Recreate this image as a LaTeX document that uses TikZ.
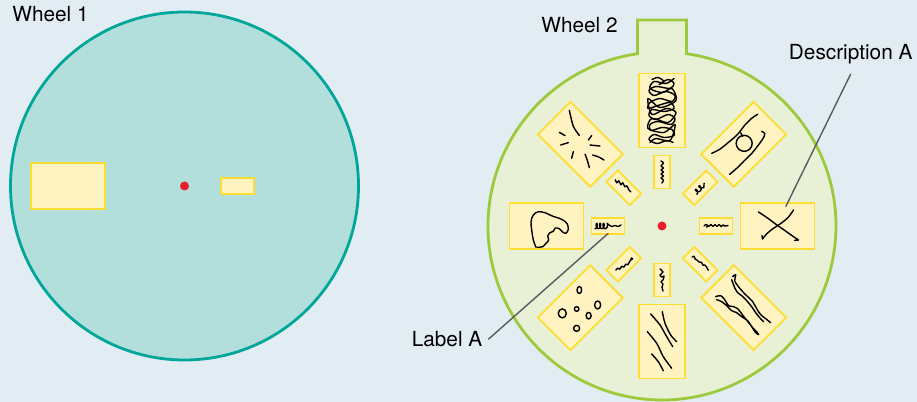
\documentclass[tikz,border=0pt]{standalone}
\usepackage{fontspec}
\setmainfont{TeX Gyre Heros}
\usetikzlibrary{calc}
\definecolor{bgblue}{HTML}{E2EDF3}
\definecolor{tealfill}{HTML}{B2DFDB}
\definecolor{tealline}{HTML}{00A699}
\definecolor{greenfill}{HTML}{E8F1D5}
\definecolor{greenline}{HTML}{9DC93C}
\definecolor{tilefill}{HTML}{FFF3C2}
\definecolor{tileline}{HTML}{FFDD33}
\definecolor{hubred}{HTML}{E8202A}
\definecolor{leadgray}{HTML}{5A5A5C}

\begin{document}
\begin{tikzpicture}[x=0.5pt, y=0.5pt,
  wheelone/.style={draw=tealline, fill=tealfill, line width=1.4pt},
  wheeltwo/.style={draw=greenline, fill=greenfill, line width=1.4pt},
  tile/.style={draw=tileline, fill=tilefill, line width=0.9pt, minimum width=37pt, minimum height=23pt, inner sep=0pt},
  chip/.style={tile, minimum width=16.5pt, minimum height=8pt},
  pen/.style={black, line width=0.7pt, line cap=round, line join=round},
  leader/.style={draw=leadgray, line width=0.7pt},
  lbl/.style={font=\fontsize{10.4}{12}\selectfont, inner sep=0pt}
]
  \useasboundingbox (0,0) rectangle (917,402);
  \fill[bgblue] (0,0) rectangle (917,402);
  \coordinate (c1) at (184.5,216);
  \coordinate (c2) at (662,176);

  % wheel 1
  \draw[wheelone] (c1) circle[radius=174];
  \node[lbl, anchor=base west] (wone) at (12,380) {Wheel 1};
  \node[tile] (wbig) at ($(c1)+(180:116.5)$) {};
  \node[chip] (wsmall) at ($(c1)+(0:53)$) {};
  \fill[hubred] (c1) circle[radius=4.5];

  % wheel 2 with its tab
  \draw[wheeltwo] (637.5,348.27) -- (637.5,382) -- (686.5,382) -- (686.5,348.27)
    arc[start angle=81.9, end angle=-261.9, radius=174] -- cycle;
  \node[lbl, anchor=base west] (wtwo) at (541,369) {Wheel 2};
  \foreach \a in {0,45,...,315} {
    \node[tile, rotate=\a] (o\a) at ($(c2)+(\a:115.5)$) {};
    \node[chip, rotate=\a] (i\a) at ($(c2)+(\a:54)$) {};
  }
  \fill[hubred] (c2) circle[radius=4.5];

  % scribbles, outer tiles
  \begin{scope}[shift={(o0.center)}, yscale=-1]
    \draw[pen] plot[smooth] coordinates {(-19,-14) (-10,-8) (-2,-2) (8,5) (15,10) (21,14)} -- (17,14.5);
    \draw[pen] plot[smooth] coordinates {(16,-16) (11,-9) (4,-3) (-5,3) (-11,8) (-15,13)} -- (-15.5,9.5);
  \end{scope}
  \begin{scope}[shift={(o45.center)}, yscale=-1]
    \draw[pen] plot[smooth] coordinates {(-32,9) (-24,5) (-14,-3) (-6,-10) (1,-19) (8,-26) (14,-30)};
    \draw[pen] plot[smooth] coordinates {(-14,30) (-7,24) (1,16) (9,8) (16,-1) (20,-7) (21,-11) (18,-13)};
    \draw[pen] (0.5,-1) circle[radius=8];
    \draw[pen] (-3,-11.5) -- (-1,-8);
  \end{scope}
  \begin{scope}[shift={(o90.center)}, yscale=-1]
    \draw[pen] plot[smooth] coordinates {(-10,-31) (-4,-33) (2,-29) (-3,-26) (6,-31) (12,-27) (8,-22)
      (-6,-24) (-13,-20) (-8,-15) (4,-19) (13,-15) (10,-9) (-2,-12) (-12,-8) (-14,-2) (-4,-5)
      (8,-8) (12,-2) (2,1) (-10,-1) (-13,5) (-6,9) (6,4) (13,8) (9,14) (-4,11) (-12,14)
      (-11,20) (0,17) (10,19) (12,25) (2,27) (-8,24) (-13,29) (-5,33) (5,30) (11,32)};
    \draw[pen] plot[smooth] coordinates {(12,-32) (4,-27) (-8,-29) (-12,-22) (0,-18) (10,-22)
      (14,-10) (-2,-3) (-14,-12) (-10,4) (4,-2) (14,2) (6,12) (-10,8) (-14,18) (2,22)
      (13,14) (8,30) (-6,28) (-12,32)};
  \end{scope}
  \begin{scope}[shift={(o135.center)}, yscale=-1]
    \draw[pen] plot[smooth] coordinates {(-11,-34) (-7,-18) (-1,-9)};
    \draw[pen] (-21,-12) -- (-15.3,-8.7);
    \draw[pen] (-19.7,0.7) -- (-12,-1.7);
    \draw[pen] (8,-4.3) -- (11.3,-8.7);
    \draw[pen] (9.7,0.7) -- (19.7,1.7);
    \draw[pen] (-8.7,14) -- (-7,7.3);
    \draw[pen] plot[smooth] coordinates {(4.7,10) (7,16) (9,23.3)};
    \draw[pen] plot[smooth] coordinates {(12.3,10.7) (18,12.5) (23.7,15.7)};
  \end{scope}
  \begin{scope}[shift={(o180.center)}, yscale=-1]
    \draw[pen] plot[smooth] coordinates {(-10.5,21.3) (-13.2,14) (-14.8,4) (-15.5,-4.3) (-13.2,-11)
      (-8.2,-14.3) (-1.5,-13.3) (3.5,-11) (7.5,-9.3) (12.8,-7.7) (17.5,-5.3) (20.8,-2)
      (21.8,3.3) (19.5,7.3) (16.2,6) (12.8,2.7) (8.8,2) (6.8,5.3) (3.5,6.7) (1.2,10)
      (2.2,14) (-0.5,17.3) (-3.8,20.7) (-9.2,21.3)};
  \end{scope}
  \begin{scope}[shift={(o225.center)}, yscale=-1]
    \draw[pen] (-1,-17.7) ellipse[x radius=2.3, y radius=3.5];
    \draw[pen] (-18,5.7) ellipse[x radius=4, y radius=4.5];
    \draw[pen] (-3.7,1.3) circle[radius=2.3];
    \draw[pen] (8.3,8) ellipse[x radius=2.5, y radius=3.3];
    \draw[pen] (17.3,-2.7) ellipse[x radius=3, y radius=4];
    \draw[pen] (-3.7,20.7) circle[radius=3];
  \end{scope}
  \begin{scope}[shift={(o270.center)}, yscale=-1]
    \draw[pen] plot[smooth] coordinates {(-11.3,-27.5) (-2,-16.5) (4.7,-4.8) (10.7,5.2)};
    \draw[pen] plot[smooth] coordinates {(0.3,-29.8) (3,-18.2) (8.7,-6.5) (14.7,0.2)};
    \draw[pen] plot[smooth] coordinates {(-14.7,-9.8) (-5.3,1.8) (1.3,15.2) (9.7,26.8)};
    \draw[pen] plot[smooth] coordinates {(-10.3,12.5) (-3.7,20.2) (1.3,29.2)};
  \end{scope}
  \begin{scope}[shift={(o315.center)}, yscale=-1]
    \draw[pen] plot[smooth] coordinates {(-11,-31) (-8,-33) (-9,-27) (-6,-22) (-1,-16) (4,-11)
      (9,-6) (13,1) (17,7) (22,11) (27,15)};
    \draw[pen] plot[smooth] coordinates {(-12,-28) (-9,-20) (-6,-15) (-2,-12) (3,-7) (8,-1)
      (12,5) (16,10) (20,14)};
    \draw[pen] plot[smooth] coordinates {(-28,-11) (-23,-12) (-19,-8) (-15,-2) (-10,-1) (-6,1)
      (-2,6) (1,10) (5,15) (9,20) (13,24) (15,27) (12,25) (8,19) (4,13) (-2,9) (-7,5)
      (-12,3) (-17,-2) (-22,-6) (-27,-8)};
  \end{scope}

  % scribbles, inner chips
  \begin{scope}[shift={(i0.center)}, yscale=-1]
    \draw[pen] plot[smooth] coordinates {(-12,0) (-10,-1.5) (-8,0) (-9.5,1) (-7,0) (-5,-1.5)
      (-3,0.5) (-1,-1.5) (1,0.5) (3,-1.5) (5,0.5) (7,-1) (9,0) (12,-0.5)};
  \end{scope}
  \begin{scope}[shift={(i45.center)}, rotate=45]
    \draw[pen] plot[domain=0:720, samples=50, smooth] ({-7+\x/720*10+1.6*sin(\x)}, {-2.2*cos(\x)})
      -- (6,0.5);
  \end{scope}
  \begin{scope}[shift={(i90.center)}, yscale=-1]
    \draw[pen] plot[smooth] coordinates {(-1,-11) (1.5,-9) (-1,-6) (1.5,-4) (-1,-2) (1.5,0)
      (-1,2) (1.5,4) (-1,6) (1.5,8) (0,11)};
  \end{scope}
  \begin{scope}[shift={(i135.center)}, yscale=-1]
    \draw[pen] plot[smooth] coordinates {(-8.5,-8) (-7,-5) (-5,-7) (-3,-3) (-1,-5) (1,-1)
      (3,-2) (5,2) (7,4)};
  \end{scope}
  \begin{scope}[shift={(i180.center)}, yscale=-1]
    \draw[pen] plot[domain=0:1260, samples=70, smooth] ({-13+\x/1260*12+1.3*sin(\x)}, {2.6*cos(\x)})
      -- plot[smooth] coordinates {(1,-1) (4,0.5) (7,-0.5) (10,0.5) (13,-1)};
  \end{scope}
  \begin{scope}[shift={(i225.center)}, yscale=-1]
    \draw[pen] plot[smooth] coordinates {(-8,6) (-6,4) (-4,5) (-2,2) (0,3) (2,0) (4,0.5)
      (6,-3) (8,-5)};
    \fill (8,-5.5) circle[radius=1.6];
  \end{scope}
  \begin{scope}[shift={(i270.center)}, yscale=-1]
    \draw[pen] plot[smooth] coordinates {(-2,-11) (1,-8) (-2,-5) (0,-3) (2,-4) (1,0) (-1,2)
      (1,4) (0,7) (1,11)};
  \end{scope}
  \begin{scope}[shift={(i315.center)}, yscale=-1]
    \draw[pen] plot[smooth] coordinates {(-8,-7) (-6,-8) (-5,-5) (-3,-4) (-1,-2) (1,-2)
      (3,1) (5,1) (7,4) (8,6)};
  \end{scope}

  % leaders
  \node[lbl, anchor=south, inner sep=2pt, outer sep=3pt] (desc) at (850.7,328) {Description A};
  \coordinate (xmark) at ($(o0.center)+(8.2,19.3)$);
  \draw[leader] (desc.south) -- (xmark);
  \node[lbl, anchor=east, inner sep=1.5pt, outer sep=1.5pt] (lbla) at (488.3,62.7) {Label A};
  \coordinate (lblpt) at ($(i180.center)+(0.3,-7.3)$);
  \draw[leader] (lbla.east) -- (lblpt);
\end{tikzpicture}
\end{document}
